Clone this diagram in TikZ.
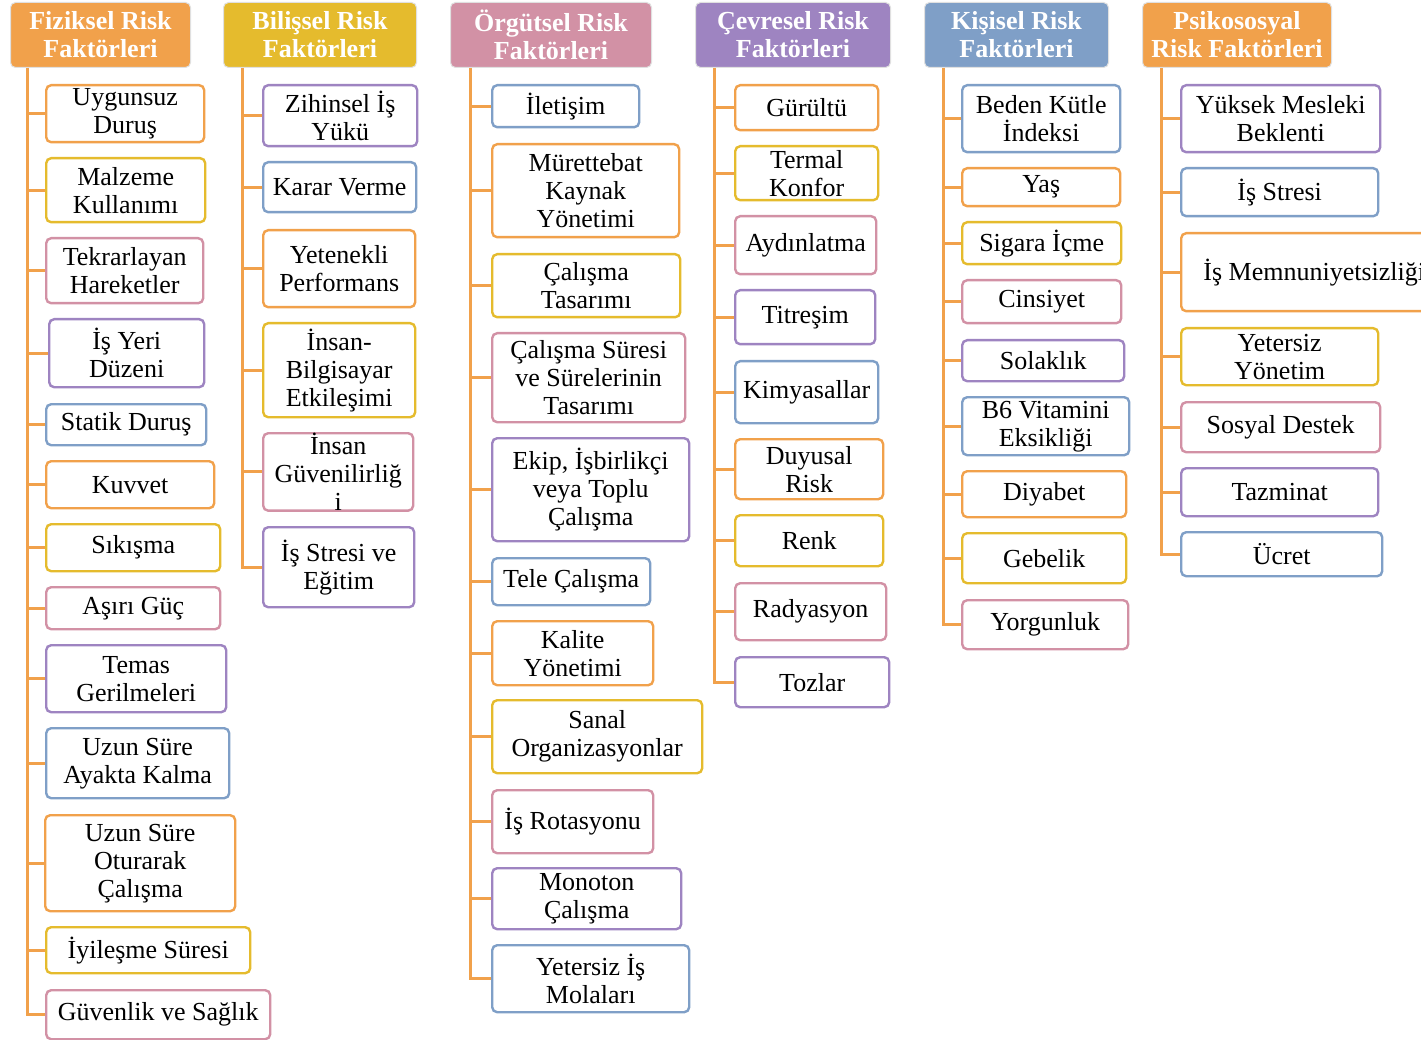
\documentclass[tikz,border=0pt]{standalone}
\usepackage{fontspec}
\setmainfont{Liberation Serif}
\usepackage{xcolor}
\definecolor{orng}{HTML}{F1A14B}
\definecolor{yllw}{HTML}{E5BB2D}
\definecolor{pink}{HTML}{D291A5}
\definecolor{prpl}{HTML}{9E84C1}
\definecolor{blue}{HTML}{7F9FC7}
\usepackage{tikz}
\usetikzlibrary{positioning,calc}
\tikzset{
  riskhead/.style={fill=#1,draw=black!12,line width=1pt,rounded corners=5pt,text=white,align=center,anchor=north west,inner sep=2pt,font=\bfseries\fontsize{26}{28}\selectfont},
  riskbox/.style={draw=#1,line width=2.4pt,rounded corners=5pt,fill=white,align=center,anchor=north west,inner sep=1pt,font=\fontsize{26}{28}\selectfont},
  trunk/.style={draw=orng,line width=3pt}
}
\begin{document}
\begin{tikzpicture}[x=1pt,y=-1pt]
\path[use as bounding box,fill=white] (0,0) rectangle (1421,1040);
% basliklar
\node[riskhead=orng,minimum width=180,minimum height=65] (fh) at (10,2) {Fiziksel Risk\\Faktörleri};
\node[riskhead=yllw,minimum width=193,minimum height=65] (bh) at (223,2) {Bilişsel Risk\\Faktörleri};
\node[riskhead=pink,minimum width=201,minimum height=65] (oh) at (450,2) {Örgütsel Risk\\Faktörleri};
\node[riskhead=prpl,minimum width=195,minimum height=65] (ch) at (695,2) {Çevresel Risk\\Faktörleri};
\node[riskhead=blue,minimum width=184,minimum height=65] (kh) at (924,2) {Kişisel Risk\\Faktörleri};
\node[riskhead=orng,minimum width=189,minimum height=65] (ph) at (1142,2) {Psikososyal\\Risk Faktörleri};
% fiziksel
\node[riskbox=orng,minimum width=158,minimum height=57] (f1) at (45,84) {Uygunsuz\\Duruş};
\node[riskbox=yllw,minimum width=159,minimum height=64] (f2) at (45,157) {Malzeme\\Kullanımı};
\node[riskbox=pink,minimum width=157,minimum height=65] (f3) at (45,237) {Tekrarlayan\\Hareketler};
\node[riskbox=prpl,minimum width=155,minimum height=68] (f4) at (48,318) {İş Yeri\\Düzeni};
\node[riskbox=blue,minimum width=160,minimum height=41] (f5) at (45,403) {Statik Duruş};
\node[riskbox=orng,minimum width=168,minimum height=47] (f6) at (45,460) {Kuvvet};
\node[riskbox=yllw,minimum width=174,minimum height=47] (f7) at (45,523) {Sıkışma};
\node[riskbox=pink,minimum width=174,minimum height=42] (f8) at (45,586) {Aşırı Güç};
\node[riskbox=prpl,minimum width=180,minimum height=67] (f9) at (45,644) {Temas\\Gerilmeleri};
\node[riskbox=blue,minimum width=183,minimum height=70] (f10) at (45,727) {Uzun Süre\\Ayakta Kalma};
\node[riskbox=orng,minimum width=190,minimum height=96] (f11) at (44,814) {Uzun Süre\\Oturarak\\Çalışma};
\node[riskbox=yllw,minimum width=204,minimum height=46] (f12) at (45,926) {İyileşme Süresi};
\node[riskbox=pink,minimum width=224,minimum height=49] (f13) at (45,989) {Güvenlik ve Sağlık};
% bilissel
\node[riskbox=prpl,minimum width=154,minimum height=61] (b1) at (262,84) {Zihinsel İş\\Yükü};
\node[riskbox=blue,minimum width=153,minimum height=50] (b2) at (262,161) {Karar Verme};
\node[riskbox=orng,minimum width=152,minimum height=77] (b3) at (262,229) {Yetenekli\\Performans};
\node[riskbox=yllw,minimum width=152,minimum height=94] (b4) at (262,322) {İnsan-\\Bilgisayar\\Etkileşimi};
\node[riskbox=pink,minimum width=150,minimum height=77,inner sep=0pt] (b5) at (262,432) {İnsan\\Güvenilirliğ\\i};
\node[riskbox=prpl,minimum width=151,minimum height=80] (b6) at (262,526) {İş Stresi ve\\Eğitim};
% orgutsel
\node[riskbox=blue,minimum width=147,minimum height=42] (o1) at (491,84) {İletişim};
\node[riskbox=orng,minimum width=187,minimum height=93] (o2) at (491,143) {Mürettebat\\Kaynak\\Yönetimi};
\node[riskbox=yllw,minimum width=188,minimum height=63] (o3) at (491,253) {Çalışma\\Tasarımı};
\node[riskbox=pink,minimum width=193,minimum height=89] (o4) at (491,332) {Çalışma Süresi\\ve Sürelerinin\\Tasarımı};
\node[riskbox=prpl,minimum width=197,minimum height=103] (o5) at (491,437) {Ekip, İşbirlikçi\\veya Toplu\\Çalışma};
\node[riskbox=blue,minimum width=158,minimum height=47] (o6) at (491,557) {Tele Çalışma};
\node[riskbox=orng,minimum width=161,minimum height=64] (o7) at (491,620) {Kalite\\Yönetimi};
\node[riskbox=yllw,minimum width=210,minimum height=73] (o8) at (491,699) {Sanal\\Organizasyonlar};
\node[riskbox=pink,minimum width=161,minimum height=63] (o9) at (491,789) {İş Rotasyonu};
\node[riskbox=prpl,minimum width=189,minimum height=61] (o10) at (491,867) {Monoton\\Çalışma};
\node[riskbox=blue,minimum width=197,minimum height=67] (o11) at (491,944) {Yetersiz İş\\Molaları};
% cevresel
\node[riskbox=orng,minimum width=143,minimum height=45] (c1) at (734,84) {Gürültü};
\node[riskbox=yllw,minimum width=143,minimum height=54] (c2) at (734,145) {Termal\\Konfor};
\node[riskbox=pink,minimum width=141,minimum height=58] (c3) at (734,215) {Aydınlatma};
\node[riskbox=prpl,minimum width=140,minimum height=54] (c4) at (734,289) {Titreşim};
\node[riskbox=blue,minimum width=143,minimum height=62] (c5) at (734,360) {Kimyasallar};
\node[riskbox=orng,minimum width=148,minimum height=60] (c6) at (734,438) {Duyusal\\Risk};
\node[riskbox=yllw,minimum width=148,minimum height=51] (c7) at (734,514) {Renk};
\node[riskbox=pink,minimum width=151,minimum height=57] (c8) at (734,582) {Radyasyon};
\node[riskbox=prpl,minimum width=154,minimum height=50] (c9) at (734,656) {Tozlar};
% kisisel
\node[riskbox=blue,minimum width=158,minimum height=67] (k1) at (961,84) {Beden Kütle\\İndeksi};
\node[riskbox=orng,minimum width=158,minimum height=38] (k2) at (961,167) {Yaş};
\node[riskbox=yllw,minimum width=159,minimum height=42] (k3) at (961,221) {Sigara İçme};
\node[riskbox=pink,minimum width=159,minimum height=43] (k4) at (961,279) {Cinsiyet};
\node[riskbox=prpl,minimum width=162,minimum height=41] (k5) at (961,339) {Solaklık};
\node[riskbox=blue,minimum width=167,minimum height=58] (k6) at (961,396) {B6 Vitamini\\Eksikliği};
\node[riskbox=orng,minimum width=164,minimum height=46] (k7) at (961,470) {Diyabet};
\node[riskbox=yllw,minimum width=164,minimum height=50] (k8) at (961,532) {Gebelik};
\node[riskbox=pink,minimum width=166,minimum height=49] (k9) at (961,599) {Yorgunluk};
% psikososyal
\node[riskbox=prpl,minimum width=199,minimum height=67] (p1) at (1180,84) {Yüksek Mesleki\\Beklenti};
\node[riskbox=blue,minimum width=197,minimum height=48] (p2) at (1180,167) {İş Stresi};
\node[riskbox=orng,minimum width=266,minimum height=78] (p3) at (1180,232) {İş Memnuniyetsizliği};
\node[riskbox=yllw,minimum width=197,minimum height=57] (p4) at (1180,327) {Yetersiz\\Yönetim};
\node[riskbox=pink,minimum width=199,minimum height=50] (p5) at (1180,401) {Sosyal Destek};
\node[riskbox=prpl,minimum width=197,minimum height=48] (p6) at (1180,467) {Tazminat};
\node[riskbox=blue,minimum width=201,minimum height=44] (p7) at (1180,531) {Ücret};
% baglantilar
\coordinate (ft) at ([xshift=17pt]fh.south west);
\coordinate (bt) at ([xshift=19pt]bh.south west);
\coordinate (ot) at ([xshift=20pt]oh.south west);
\coordinate (ct) at ([xshift=19pt]ch.south west);
\coordinate (kt) at ([xshift=19pt]kh.south west);
\coordinate (pt) at ([xshift=19pt]ph.south west);
\draw[trunk] (ft) |- (f13.west);
\foreach \i in {1,...,12} \draw[trunk] (ft |- f\i.west) -- (f\i.west);
\draw[trunk] (bt) |- (b6.west);
\foreach \i in {1,...,5} \draw[trunk] (bt |- b\i.west) -- (b\i.west);
\draw[trunk] (ot) |- (o11.west);
\foreach \i in {1,...,10} \draw[trunk] (ot |- o\i.west) -- (o\i.west);
\draw[trunk] (ct) |- (c9.west);
\foreach \i in {1,...,8} \draw[trunk] (ct |- c\i.west) -- (c\i.west);
\draw[trunk] (kt) |- (k9.west);
\foreach \i in {1,...,8} \draw[trunk] (kt |- k\i.west) -- (k\i.west);
\draw[trunk] (pt) |- (p7.west);
\foreach \i in {1,...,6} \draw[trunk] (pt |- p\i.west) -- (p\i.west);
\end{tikzpicture}
\end{document}
